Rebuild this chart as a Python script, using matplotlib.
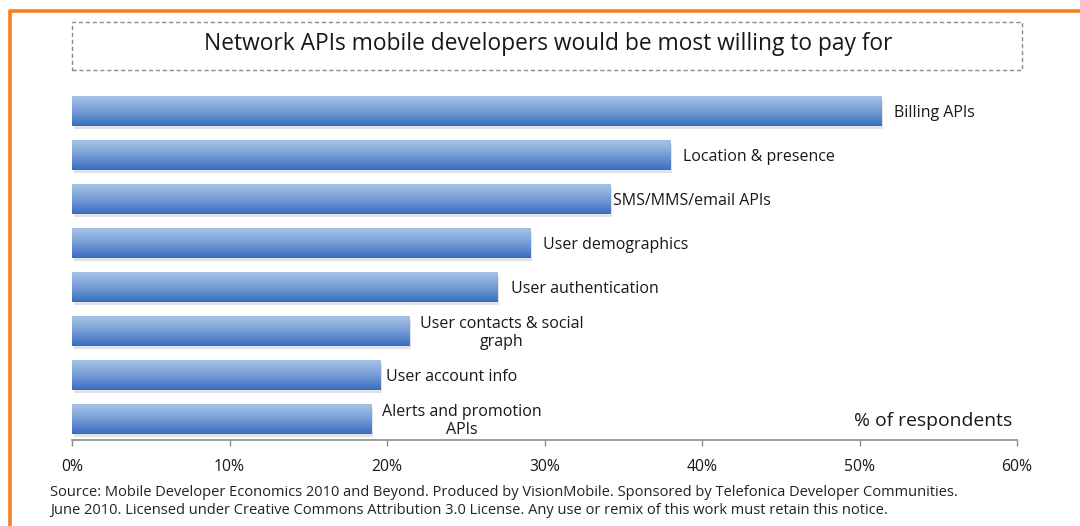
import numpy as np
import matplotlib
matplotlib.use("Agg")
import matplotlib.pyplot as plt
from matplotlib.patches import Rectangle
from matplotlib.lines import Line2D

# Survey results: share of respondents per network API
categories = [
    "Billing APIs",
    "Location & presence",
    "SMS/MMS/email APIs",
    "User demographics",
    "User authentication",
    "User contacts & social\ngraph",
    "User account info",
    "Alerts and promotion\nAPIs",
]
values = [51.4, 38.0, 34.2, 29.1, 27.0, 21.4, 19.6, 19.0]
tick_values = [0, 10, 20, 30, 40, 50, 60]
tick_labels = ["0%", "10%", "20%", "30%", "40%", "50%", "60%"]

title = "Network APIs mobile developers would be most willing to pay for"
axis_note = "% of respondents"
source_lines = [
    "Source: Mobile Developer Economics 2010 and Beyond. Produced by VisionMobile. "
    "Sponsored by Telefonica Developer Communities.",
    "June 2010. Licensed under Creative Commons Attribution 3.0 License. "
    "Any use or remix of this work must retain this notice.",
]

FONT = ["Open Sans", "DejaVu Sans"]
TEXT = "#181818"

W, H = 1080, 526
fig = plt.figure(figsize=(W / 100, H / 100), dpi=100)
fig.patch.set_facecolor("white")

# orange frame (top and left edges)
fig.add_artist(Line2D([8.5 / W, 1.0], [1 - 11 / H, 1 - 11 / H], color="#f5821f",
                      lw=2.6, solid_capstyle="butt"))
fig.add_artist(Line2D([9.5 / W, 9.5 / W], [1 - 10 / H, 0.0], color="#f5821f",
                      lw=2.6, solid_capstyle="butt"))

# dashed title box
fig.add_artist(Rectangle((72 / W, 1 - 70 / H), (1022 - 72) / W, 48 / H,
                         transform=fig.transFigure, fill=False,
                         edgecolor="#8a8a8a", lw=1.0, linestyle=(0, (3, 2))))
fig.text(548 / W, 1 - 44 / H, title, ha="center", va="center",
         fontsize=16.4, color=TEXT, family=FONT)

ax = fig.add_axes([72 / W, 1 - 440 / H, 945 / W, 351 / H])
ax.set_facecolor("none")

n = len(values)
ypos = np.arange(n)
bar_h = 0.66

# vertical gradient used for each bar
top_c = np.array([0.64, 0.75, 0.90])
bot_c = np.array([0.22, 0.43, 0.76])
t = np.linspace(0, 1, 64)[:, None]
t = t ** 1.2
grad = (top_c * (1 - t) + bot_c * t)[:, None, :]

for y, v in zip(ypos, values):
    # soft shadow
    ax.add_patch(Rectangle((0.1, y - bar_h / 2 + 0.07), v, bar_h,
                           facecolor="#c8c8c8", edgecolor="none", alpha=0.5, zorder=1))
    ax.imshow(grad, extent=(0, v, y + bar_h / 2, y - bar_h / 2), aspect="auto",
              origin="upper", interpolation="bilinear", zorder=2)

# category labels next to bars (offset in points)
label_dx = [9, 9, 2, 9, 10, 8, 4, 8]
for y, v, lab, dx in zip(ypos, values, categories, label_dx):
    ax.annotate(lab, xy=(v, y), xytext=(dx, -1.5), textcoords="offset points",
                ha="left", va="center", multialignment="center",
                fontsize=11.5, color=TEXT, family=FONT, linespacing=1.15,
                zorder=3)

ax.set_xlim(0, 60)
ax.set_ylim(n - 1 + 0.477, -0.5)

for s in ["top", "right", "left"]:
    ax.spines[s].set_visible(False)
ax.spines["bottom"].set_color("#8c8c8c")
ax.spines["bottom"].set_linewidth(1.2)
ax.set_yticks([])
ax.set_xticks(tick_values)
ax.set_xticklabels(tick_labels, family=FONT, fontsize=11.3, color=TEXT)
ax.tick_params(axis="x", direction="out", length=4, width=1, color="#8c8c8c",
               pad=10)

fig.text(1012 / W, 1 - 421 / H, axis_note, ha="right", va="center",
         fontsize=13.9, color=TEXT, family=FONT)

fig.text(50 / W, 1 - 493 / H, source_lines[0], ha="left", va="center",
         fontsize=10.5, color="#222222", family=FONT)
fig.text(50 / W, 1 - 510 / H, source_lines[1], ha="left", va="center",
         fontsize=10.5, color="#222222", family=FONT)

fig.savefig("out.png", dpi=100, facecolor="white")
